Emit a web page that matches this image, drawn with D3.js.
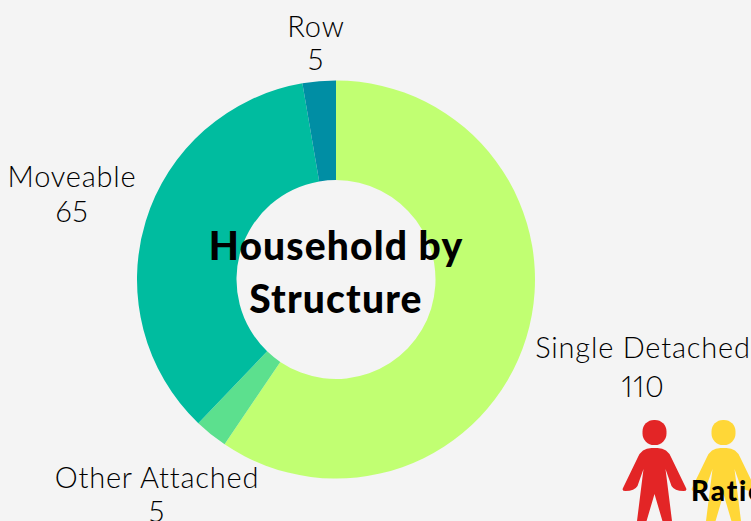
<!DOCTYPE html>
<html>
<head>
<meta charset="utf-8">
<script src="https://cdn.jsdelivr.net/npm/d3@7"></script>
<style>
  html, body { margin: 0; padding: 0; background: #f4f4f4; overflow: hidden; }
  text { font-family: Lato, "Open Sans", sans-serif; fill: #000; }
  .lbl { font-size: 29px; font-weight: 300; letter-spacing: 0.8px; font-variant-numeric: proportional-nums; }
  .title { font-size: 39px; font-weight: 900; letter-spacing: 1.15px; }
  .ratio { font-size: 28px; font-weight: 900; letter-spacing: 1.8px; }
</style>
</head>
<body>
<div id="chart"></div>
<script>
var categories = ['Single Detached', 'Other Attached', 'Moveable', 'Row'];
var values = [110, 5, 65, 5];
var colors = ['#c1ff72', '#5ce08e', '#00bc9f', '#008ea4'];
var titleLines = ['Household by', 'Structure'];
// label centre x, name baseline, value baseline
var labelSpots = [[643, 358, 397], [157, 488, 522], [72, 187, 222], [316, 37, 70]];
var people = [['#e32526', 654.5], ['#ffd737', 723.5]];

var svg = d3.select('#chart').append('svg')
  .attr('width', 751).attr('height', 521);

var cx = 336, cy = 279.5;
var pie = d3.pie().sort(null).value(function (d) { return d; });
var arc = d3.arc().innerRadius(99.5).outerRadius(199);

svg.selectAll('path.slice')
  .data(pie(values))
  .enter().append('path')
  .attr('class', 'slice')
  .attr('transform', 'translate(' + cx + ',' + cy + ')')
  .attr('d', arc)
  .attr('fill', function (d, i) { return colors[i]; });

categories.forEach(function (c, i) {
  var t = svg.append('text').attr('class', 'lbl').attr('text-anchor', 'middle');
  t.append('tspan').attr('x', labelSpots[i][0]).attr('y', labelSpots[i][1]).text(c);
  t.append('tspan').attr('x', labelSpots[i][0]).attr('y', labelSpots[i][2]).text(values[i]);
});

titleLines.forEach(function (l, i) {
  svg.append('text').attr('class', 'title').attr('text-anchor', 'middle')
    .attr('x', cx).attr('y', 260 + i * 53).text(l);
});

// person icons, drawn around the head centre
var body = 'M-3,28 H3 Q13,28 17,38 L31.5,68 Q33,71 29,71 Q20,71 17,66 L11,49 ' +
  'L20.5,125 H15 L0,74 L-15,125 H-20.5 L-11,49 L-17,66 Q-20,71 -29,71 Q-33,71 -31.5,68 L-17,38 Q-13,28 -3,28 Z';
var person = svg.selectAll('g.person')
  .data(people)
  .enter().append('g')
  .attr('class', 'person')
  .attr('transform', function (d) { return 'translate(' + d[1] + ',420)'; })
  .attr('fill', function (d) { return d[0]; });
person.append('rect')
  .attr('x', -12).attr('y', 0).attr('width', 24).attr('height', 25).attr('rx', 11.5);
person.append('path').attr('d', body);

svg.append('text').attr('class', 'ratio').attr('x', 691).attr('y', 501).text('Ratio');
</script>
</body>
</html>
